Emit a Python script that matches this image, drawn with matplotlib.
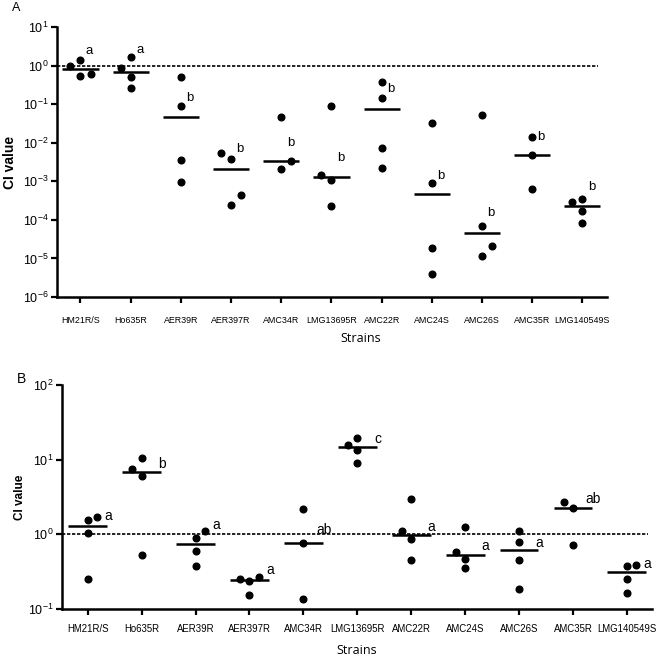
import numpy as np
import matplotlib
matplotlib.use('Agg')
import matplotlib.pyplot as plt
from matplotlib.ticker import NullLocator, FixedLocator, LogFormatterMathtext

plt.rcParams['font.family'] = ['Liberation Sans', 'DejaVu Sans']
plt.rcParams['mathtext.fontset'] = 'custom'
plt.rcParams['mathtext.rm'] = 'Liberation Sans'
plt.rcParams['mathtext.it'] = 'Liberation Sans'
plt.rcParams['mathtext.default'] = 'regular'

strains = ['HM21R/S', 'Ho635R', 'AER39R', 'AER397R', 'AMC34R', 'LMG13695R',
           'AMC22R', 'AMC24S', 'AMC26S', 'AMC35R', 'LMG140549S']

# Panel A: CI values per strain
ci_a = [
    [0.99, 1.39, 0.55, 0.61],
    [0.85, 1.64, 0.51, 0.26],
    [0.50, 0.0895, 0.00357, 0.00098],
    [0.0053, 0.0038, 0.000247, 0.00043],
    [0.046, 0.00204, 0.00336],
    [0.00146, 0.091, 0.00108, 0.000224],
    [0.38, 0.147, 0.00716, 0.00225],
    [0.0318, 0.0009, 1.9e-5, 4.0e-6],
    [0.051, 7.05e-5, 2.06e-5, 1.16e-5],
    [0.01406, 0.00472, 0.000643],
    [0.000296, 0.000354, 0.000167, 8.4e-5],
]
letters_a = ['a', 'a', 'b', 'b', 'b', 'b', 'b', 'b', 'b', 'b', 'b']
letter_y_a = [2.39, 2.54, 0.147, 0.0069, 0.010, 0.0039, 0.243, 0.0014, 1.48e-4, 0.0141, 7.2e-4]

# Panel B: CI values per strain
ci_b = [
    [1.54, 1.69, 1.05, 0.255],
    [7.58, 10.5, 5.97, 0.535],
    [1.12, 0.895, 0.605, 0.377],
    [0.255, 0.24, 0.266, 0.153],
    [2.16, 0.767, 0.138],
    [15.9, 19.5, 13.6, 9.12],
    [1.10, 2.94, 0.868, 0.454],
    [0.58, 1.27, 0.473, 0.358],
    [1.11, 0.78, 0.458, 0.1875],
    [2.74, 2.28, 0.728],
    [0.373, 0.393, 0.25, 0.162],
]
letters_b = ['a', 'b', 'a', 'a', 'ab', 'c', 'a', 'a', 'a', 'ab', 'a']
letter_y_b = [1.74, 8.65, 1.32, 0.33, 1.16, 19.1, 1.26, 0.69, 0.767, 3.0, 0.405]

# horizontal scatter slots (-1 left, 0 centre, 1 right) for overlapping points
jit_a = [[-1, 0, 0, 1], [-1, 0, 0, 0], [0, 0, 0, 0], [-1, 0, 0, 1], [0, 0, 1],
         [-1, 0, 0, 0], [0, 0, 0, 0], [0, 0, 0, 0], [0, 0, 1, 0], [0, 0, 0], [-1, 0, 0, 0]]
jit_b = [[0, 1, 0, 0], [-1, 0, 0, 0], [1, 0, 0, 0], [-1, 0, 1, 0], [0, 0, 0],
         [-1, 0, 0, 0], [-1, 0, 0, 0], [-1, 0, 0, 0], [0, 0, 0, 0], [-1, 0, 0], [0, 1, 0, 0]]

W, H = 661, 658
fig = plt.figure(figsize=(W / 100, H / 100), dpi=100)


def panel(rect, data, jit, jstep, letters, ly, lx, ylim, yticks, xlim, dash_frac,
          tick_fs, ytick_fs, let_fs, xpad):
    ax = fig.add_axes(rect)
    ax.set_yscale('log')
    ax.set_ylim(*ylim)
    ax.set_xlim(*xlim)
    ax.axhline(1.0, xmin=0, xmax=dash_frac, color='black', lw=1.2,
               linestyle=(0, (2.0, 1.0)), zorder=1)
    for i, vals in enumerate(data):
        xs = i + np.array(jit[i]) * jstep
        ax.plot(xs, vals, 'o', ms=4.8, color='black', mec='black', zorder=3)
        med = np.median(vals)
        ax.hlines(med, i - 0.36, i + 0.36, color='black', lw=1.8, zorder=2)
        ax.text(i + lx, ly[i], letters[i], ha='center', va='center', fontsize=let_fs)
    ax.yaxis.set_major_locator(FixedLocator(yticks))
    ax.yaxis.set_major_formatter(LogFormatterMathtext())
    ax.yaxis.set_minor_locator(NullLocator())
    ax.set_xticks(range(len(strains)))
    ax.set_xticklabels(strains, fontsize=tick_fs)
    for s in ['top', 'right']:
        ax.spines[s].set_visible(False)
    for s in ['left', 'bottom']:
        ax.spines[s].set_linewidth(1.8)
    ax.tick_params(axis='both', which='major', length=4, width=1.6, color='black')
    ax.tick_params(axis='y', labelsize=ytick_fs, pad=2)
    ax.tick_params(axis='x', pad=xpad)
    return ax


axA = panel([57 / W, 1 - 297 / H, 550 / W, 270 / H], ci_a, jit_a, 0.2,
            letters_a, letter_y_a, 0.18, (1e-6, 10),
            [1e-6, 1e-5, 1e-4, 1e-3, 1e-2, 1e-1, 1, 10],
            (-0.468, 10.49), 0.984, 6.4, 9, 9.5, 10)

axB = panel([61.7 / W, 1 - 609 / H, 590 / W, 224 / H], ci_b, jit_b, 0.17,
            letters_b, letter_y_b, 0.38, (0.1, 100),
            [0.1, 1, 10, 100],
            (-0.482, 10.46), 0.993, 6.9, 9, 10, 6.5)

fig.text(10 / W, 1 - 162 / H, 'CI value', rotation=90, ha='center', va='center',
         fontsize=10, fontweight='bold')
fig.text(20 / W, 1 - 497 / H, 'CI value', rotation=90, ha='center', va='center',
         fontsize=8.5, fontweight='bold')
fig.text(361 / W, 1 - 338 / H, 'Strains', ha='center', va='center', fontsize=9,
         family=['Open Sans', 'DejaVu Sans'])
fig.text(357 / W, 1 - 650 / H, 'Strains', ha='center', va='center', fontsize=9,
         family=['Open Sans', 'DejaVu Sans'])
fig.text(16 / W, 1 - 8 / H, 'A', ha='center', va='center', fontsize=9)
fig.text(21 / W, 1 - 379 / H, 'B', ha='center', va='center', fontsize=10)

fig.savefig('out.png', dpi=100)
